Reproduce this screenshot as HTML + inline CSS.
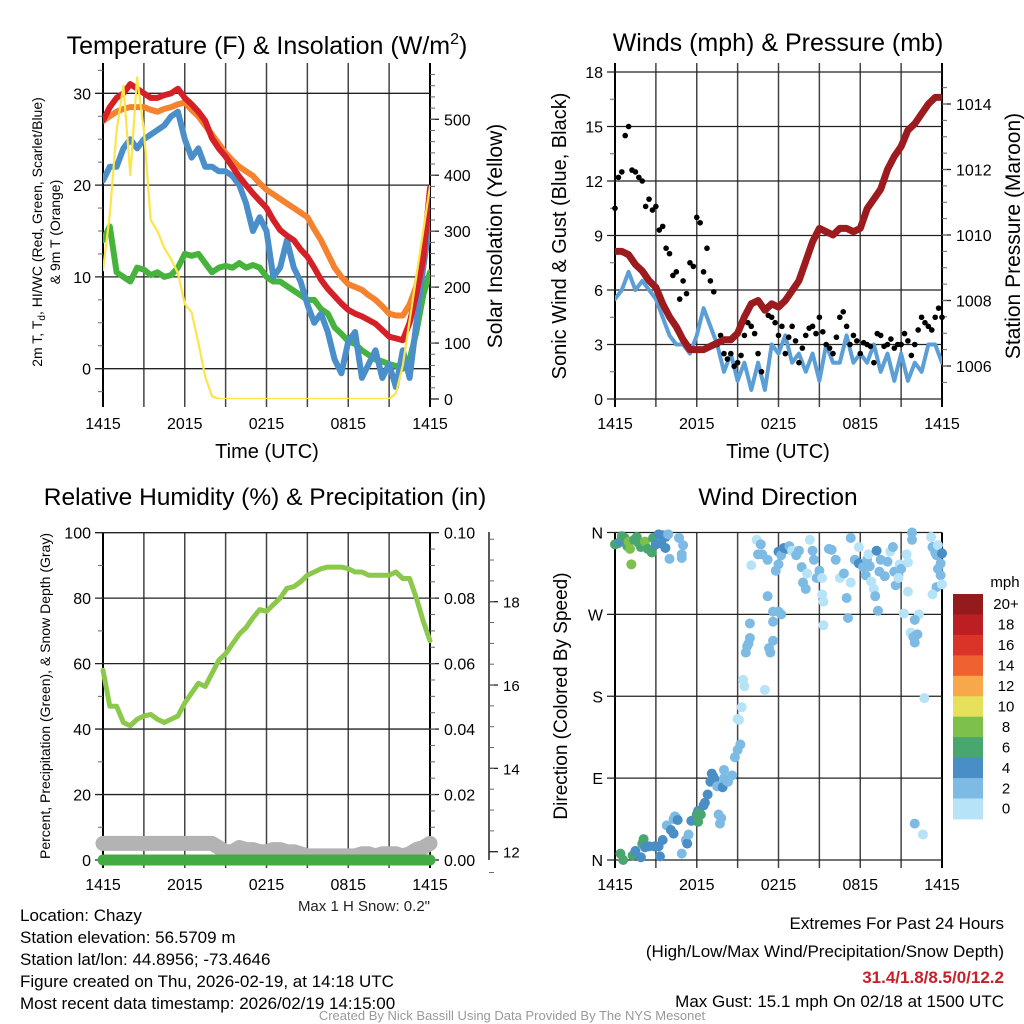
<!DOCTYPE html>
<html><head><meta charset="utf-8">
<style>
html,body{margin:0;padding:0;background:#fff;}
svg{display:block;font-family:"Liberation Sans",sans-serif;}
</style></head>
<body>
<svg id="fig" width="1024" height="1024" viewBox="0 0 1024 1024" xmlns="http://www.w3.org/2000/svg">
<g id="static">
<text x="267" y="54" font-size="25" text-anchor="middle">Temperature (F) &amp; Insolation (W/m<tspan font-size="16" dy="-10">2</tspan><tspan dy="10">)</tspan></text>
<text x="778" y="51" font-size="25" text-anchor="middle">Winds (mph) &amp; Pressure (mb)</text>
<text x="265" y="505" font-size="24.5" text-anchor="middle">Relative Humidity (%) &amp; Precipitation (in)</text>
<text x="778" y="505" font-size="24.5" text-anchor="middle">Wind Direction</text>

<text x="267" y="458" font-size="20" text-anchor="middle">Time (UTC)</text>
<text x="778" y="458" font-size="20" text-anchor="middle">Time (UTC)</text>

<text transform="translate(42,232) rotate(-90)" font-size="14" text-anchor="middle">2m T, T<tspan font-size="10" dy="3">d</tspan><tspan dy="-3">, HI/WC (Red, Green, Scarlet/Blue)</tspan></text>
<text transform="translate(60,232) rotate(-90)" font-size="14" text-anchor="middle">&amp; 9m T (Orange)</text>
<text transform="translate(502,236) rotate(-90)" font-size="21" text-anchor="middle">Solar Insolation (Yellow)</text>
<text transform="translate(566,236) rotate(-90)" font-size="20" text-anchor="middle">Sonic Wind &amp; Gust (Blue, Black)</text>
<text transform="translate(1020,236) rotate(-90)" font-size="21" text-anchor="middle">Station Pressure (Maroon)</text>
<text transform="translate(50,696) rotate(-90)" font-size="14" text-anchor="middle">Percent, Precipitation (Green), &amp; Snow Depth (Gray)</text>
<text transform="translate(567,696) rotate(-90)" font-size="19" text-anchor="middle">Direction (Colored By Speed)</text>

<text x="430" y="911" font-size="15" text-anchor="end" fill="#222">Max 1 H Snow: 0.2"</text>
<g font-size="17" fill="#000">
<text x="20" y="921">Location: Chazy</text>
<text x="20" y="943">Station elevation: 56.5709 m</text>
<text x="20" y="965">Station lat/lon: 44.8956; -73.4646</text>
<text x="20" y="987">Figure created on Thu, 2026-02-19, at 14:18 UTC</text>
<text x="20" y="1009">Most recent data timestamp: 2026/02/19 14:15:00</text>
<text x="1004" y="929" text-anchor="end">Extremes For Past 24 Hours</text>
<text x="1004" y="957" text-anchor="end">(High/Low/Max Wind/Precipitation/Snow Depth)</text>
<text x="1004" y="983" text-anchor="end" fill="#c8202a" font-weight="bold">31.4/1.8/8.5/0/12.2</text>
<text x="1004" y="1007" text-anchor="end">Max Gust: 15.1 mph On 02/18 at 1500 UTC</text>
</g>
<text x="512" y="1020" font-size="13" fill="#999" text-anchor="middle">Created By Nick Bassill Using Data Provided By The NYS Mesonet</text>
</g>
</svg>
<script>
// ---------- data (half-hourly, h = 0..24 from 1415 UTC) ----------
var xTickLabels = ["1415","2015","0215","0815","1415"];
var tempRed = [27,28.5,29.5,30,31,30.5,30,29.5,29.5,29.8,30,30.5,29.5,28.8,28,27,25.1,24,23.1,22,20.9,20,19.1,18.3,17.5,16.2,15.1,14.5,14,13,12.2,11,9.7,8.7,7.9,7.1,6.4,6,5.7,5.3,4.9,4.2,3.5,3.3,3.1,5,8.2,11.9,19.7];
var temp9m = [27,27.5,28,28.3,28.5,28.5,28.5,28.2,28,28.3,28.5,28.8,29,28.2,27.5,26.5,25.5,24.5,23.5,22.7,22,21.5,21,20.2,19.5,19,18.5,18,17.5,17,16.5,15.2,14,12.5,11,10,9.2,8.9,8.6,8,7.5,6.8,6,5.8,5.8,7,9,13,19];
var windChill = [20.5,22,22,24,25,24,25,25.5,26,26.5,27.5,28,25,23,24,22,22,21.5,21.5,21,20,18,15,16.5,15,10,11,14,11,9.5,7,5,6,4,1,-0.5,3,4,-1,0.5,2,-1,0.5,-2,2,-1,5,11,16];
var dewPoint = [14,15.5,10.5,10,9.5,11,10.8,10.2,10.5,10,10.2,11,12.5,12.3,12.5,11.5,10.5,11,11.2,11,11.5,11,11.3,11,10,9.5,9.5,9,8.5,8,7.5,7.5,6.5,6,4.5,3.8,3,2.7,2,1.5,1,0.8,0.5,0.3,0,1,4,8,10.5];
var solar = [230,330,480,560,400,575,480,320,300,270,250,225,170,155,100,40,5,0,0,0,0,0,0,0,0,0,0,0,0,0,0,0,0,0,0,0,0,0,0,0,0,0,0,10,60,140,220,300,380];
var windSpd = [5.5,6,7,6,6.5,6,5.5,4.5,3.5,3,3,2.5,3.5,5,4,3,1.5,2.5,1,2,0.5,2,0.5,3,2.5,3.5,2,2.5,1.5,2.5,1,3,2,2,3.5,2,2.5,2,3,1.5,2.5,1,2.5,1,2,1.5,3,3,2];
var gustA = [10.5,12.5,15,12.5,12,11,10.6,9.5,8,7,6.5,7.5,10,7,6.5,3,2.5,2.5,2,3.5,4,2.5,5,4.5,3.5,2.5,4,2,3.5,4,4.5,3,2.5,4.5,4,3.5,2.5,3,2,3.5,3,2.8,3,3.2,3,4.5,4,4.5,4.5];
var gustB = [12.2,14.5,12.6,12.2,10.6,10.4,9.3,8.3,6.8,5.5,5.8,7.3,9.7,8.3,5.9,3.5,2.2,1.8,2.4,4.2,3.6,1.5,4.6,4.2,4.0,3.4,3.2,2.8,3.9,3.6,3.7,2.8,3.4,4.8,3.0,3.2,3.1,2.9,3.6,2.9,3.3,3.0,3.6,2.4,3.8,4.2,3.8,5.0,3.8];
var pressure = [1009.5,1009.5,1009.4,1009.1,1008.9,1008.6,1008.4,1007.9,1007.5,1007.2,1006.8,1006.5,1006.5,1006.5,1006.6,1006.7,1006.8,1006.8,1007.0,1007.5,1007.9,1008.0,1007.7,1007.9,1007.8,1008.0,1008.3,1008.6,1009.2,1009.8,1010.2,1010.1,1010.0,1010.2,1010.2,1010.1,1010.2,1010.8,1011.1,1011.4,1012.0,1012.4,1012.7,1013.2,1013.4,1013.7,1014.0,1014.2,1014.2];
var rh = [58,47,47,42,41,43,44,44.5,43,42,43,44,48,51,54,53,57,61,63,66,69,71,74,76.5,76,78,80,83,83.5,85,87,88,89,89.5,89.5,89.5,89,88,88,87,87,87,87,88,86,86,80,73,67];
var snowDepth = [12.2,12.2,12.2,12.2,12.2,12.2,12.2,12.2,12.2,12.2,12.2,12.2,12.2,12.2,12.2,12.2,12.2,12.1,12.0,12.0,12.1,12.05,12.05,12.0,12.0,12.05,12.05,12.0,12.0,11.95,11.9,11.9,11.9,11.9,11.9,11.9,11.9,11.9,11.95,11.95,11.9,11.95,11.95,11.95,11.9,11.95,12.05,12.1,12.2];
var precip = [0,0,0,0,0,0,0,0,0,0,0,0,0,0,0,0,0,0,0,0,0,0,0,0,0,0,0,0,0,0,0,0,0,0,0,0,0,0,0,0,0,0,0,0,0,0,0,0,0];
var dirTimes = [0,0.2,0.4,0.5,0.7,0.9,1,1.1,1.2,1.4,1.6,1.7,1.9,2.2,2.4,2.7,2.8,3,3.2,3.5,3.7,3.4,3.7,3.9,4.7,5,4.0,4.9,4.9,
0.4,0.6,1.3,1.5,1.9,2.0,2.1,2.2,2.5,2.9,3.2,3.3,3.5,3.8,4.1,4.3,4.4,4.5,4.6,4.3,4.9,5.2,5.3,5.4,5.6,5.8,6.0,6.1,6.2,6.3,6.1,6.5,6.6,6.8,7.0,7.1,7.2,7.3,7.5,7.8,8.0,7.9,7.8,7.7,7.6,8.2,8.3,8.6,8.0,8.8,9.0,9.0,9.1,
9.3,9.2,9.5,9.4,9.6,9.7,9.8,9.9,9.9,10.4,10.0,10.5,10.8,11.2,10.7,11.3,11.4,11.6,11.0,11.6,11.6,11.2,11.8,12.0,12.0,12.2,12.4,12.6,12.0,12.2,12.8,13.0,13.3,13.5,13.7,13.8,14.0,14.1,14.3,14.5,14.6,14.8,15.0,15.2,15.3,15.2,15.3,15.7,15.9,16.2,16.5,16.8,17.0,17.1,17.3,17.3,17.6,17.9,17.9,18.2,18.4,18.5,18.6,18.7,18.8,19.0,19.1,19.3,19.2,19.4,19.5,19.8,20.0,20.2,20.4,20.5,20.6,20.8,20.9,21.0,20.8,21.2,21.4,21.5,21.8,21.8,21.5,21.7,21.9,22.0,22.1,22.2,22.3,22.0,22.0,22.6,22.7,23.2,23.3,23.5,23.7,23.9,23.6,24.0,23.6,23.9,24.0,23.3,23.7];
var dirDegs = [347,348,350,356,354,345,350,342,325,352,355,349,344,350,342,338,354,347,358,357,355,348,343,358,354,346,331,332,336,
7,0,5,10,3,18,23,14,15,15,15,4,22,38,33,45,48,46,44,29,7,22,18,28,43,44,50,54,52,50,42,60,63,72,86,95,92,89,81,82,90,80,46,40,50,87,86,93,99,113,121,155,154,
168,127,191,198,228,235,238,244,260,352,324,336,336,330,347,233,228,241,187,262,273,290,318,325,339,335,343,342,273,270,345,340,335,340,322,305,298,315,352,340,330,310,318,292,284,310,258,342,341,330,310,315,288,266,354,305,330,344,326,322,313,330,336,323,306,298,290,274,340,317,330,312,328,339,344,317,302,313,325,320,310,271,336,295,360,352,327,250,245,239,247,248,270,264,40,28,178,355,344,338,346,326,335,337,300,313,303,292,320];
var dirSpeeds = [6,6,5,6,7,7,8,8,8,6,6,6,6,8,7,6,6,5,4,4,4,4,4,3,3,3,3,3,3,
6,6,6,4,4,6,6,4,4,4,4,4,4,2,4,2,2,2,4,4,2,2,4,2,4,4,6,4,6,6,6,4,4,4,4,4,4,4,2,2,2,4,2,2,2,2,2,2,2,2,2,0,0,
0,2,0,0,2,2,2,2,2,0,0,2,2,2,2,2,2,2,0,2,2,2,2,2,4,2,4,4,2,2,2,0,2,2,2,2,2,0,0,2,2,2,2,0,0,0,0,2,2,2,0,2,2,2,2,0,2,0,4,2,2,2,0,2,0,0,2,2,4,2,2,2,2,0,2,2,2,2,0,2,0,0,0,0,2,2,0,0,2,2,2,2,0,2,2,0,0,0,2,2,0,2,2,4,2,2,0,0,2];
var speedBins = ["0","2","4","6","8","10","12","14","16","18","20+"];
var speedColors = ["#b6e3f8","#7ebbe4","#4a8ec6","#4aa66f","#7dc04c","#e6e05a","#f6a84a","#ef6230","#da3329","#bd1e24","#941a1c"];

// ---------- helpers ----------
var NS = "http://www.w3.org/2000/svg";
var fig = document.getElementById('fig');
function mk(tag, attrs, parent) {
  var e = document.createElementNS(NS, tag);
  for (var k in attrs) e.setAttribute(k, attrs[k]);
  (parent || fig).appendChild(e);
  return e;
}
function hours(n){ var a=[]; for(var i=0;i<n;i++) a.push(i*0.5); return a; }
var H = hours(49);

function Panel(x0, x1, y0, y1) {
  this.x0=x0; this.x1=x1; this.y0=y0; this.y1=y1;
  this.xs = function(h){ return x0 + (x1-x0)*h/24; };
}
function lin(v0, p0, v1, p1){ return function(v){ return p0 + (v-v0)*(p1-p0)/(v1-v0); }; }

function frame(p, name, topTicks) {
  var g = mk('g', {});
  
  
  for (var k=0;k<=8;k++) {
    var x = p.x0 + (p.x1-p.x0)*k/8;
    var ln = mk('line', {x1:x, x2:x, y1:p.y0-(topTicks?9:0), y2:p.y1+8, stroke:(k==0||k==8)?'#000':'#444', 'stroke-width':(k==0||k==8)?2:1.5}, g);
    
    
  }
  for (var j=0;j<xTickLabels.length;j++) {
    var t = mk('text', {x:p.xs(j*6), y:p.y1+30, 'font-size':16, 'text-anchor':'middle'}, g);
    t.textContent = xTickLabels[j];
    
    
  }
  return g;
}
function leftAxis(p, ys, vals, labels, name, minorVals) {
  for (var i=0;i<vals.length;i++){
    var y = ys(vals[i]);
    var ln = mk('line', {x1:p.x0-8, x2:p.x1, y1:y, y2:y, stroke:'#222', 'stroke-width':1.3});
    
    
    var t = mk('text', {x:p.x0-12, y:y+6, 'font-size':16, 'text-anchor':'end'});
    t.textContent = labels[i];
    
    
  }
  (minorVals||[]).forEach(function(v){
    var y = ys(v);
    var m = mk('line', {x1:p.x0-5, x2:p.x0, y1:y, y2:y, stroke:'#666', 'stroke-width':1});
    
    
  });
}
function rightAxis(x, ys, vals, labels, name, minorVals, fs) {
  for (var i=0;i<vals.length;i++){
    var y = ys(vals[i]);
    var ln = mk('line', {x1:x, x2:x+9, y1:y, y2:y, stroke:'#222', 'stroke-width':1.3});
    
    
    var t = mk('text', {x:x+14, y:y+6, 'font-size':fs||16});
    t.textContent = labels[i];
    
    
  }
  (minorVals||[]).forEach(function(v){
    var y = ys(v);
    var m = mk('line', {x1:x, x2:x+5, y1:y, y2:y, stroke:'#666', 'stroke-width':1});
    
    
  });
}
function series(p, ys, arr, color, w, name, clip) {
  var d = '';
  for (var i=0;i<arr.length;i++) d += (i?'L':'M') + p.xs(H[i]).toFixed(1) + ',' + ys(arr[i]).toFixed(1);
  var path = mk('path', {d:d, fill:'none', stroke:color, 'stroke-width':w, 'stroke-linejoin':'round', 'stroke-linecap':'round'});
  if (clip) path.setAttribute('clip-path', clip);
  
  
  return path;
}
function range(a,b,s){ var r=[]; for(var v=a; v<=b+1e-9; v+=s) r.push(+v.toFixed(4)); return r; }

var defs = mk('defs', {});
function clip(id, p){ var c = mk('clipPath', {id:id}, defs); mk('rect', {x:p.x0, y:p.y0, width:p.x1-p.x0, height:p.y1-p.y0}, c); }

// ---------- Panel 1: temperature ----------
var P1 = new Panel(103, 430, 72, 399);
clip('c1', P1);
var yT = lin(0, 368.7, 30, 93.3);
var yS = lin(0, 399, 500, 119.3);
frame(P1, 'temp-panel', true);
leftAxis(P1, yT, [0,10,20,30], ['0','10','20','30'], 'temp', [-2.5,2.5,5,7.5,12.5,15,17.5,22.5,25,27.5,32.5]);
rightAxis(P1.x1, yS, [0,100,200,300,400,500], ['0','100','200','300','400','500'], 'solar', range(20,580,20));
series(P1, yT, dewPoint, '#46b43c', 6, 'dewpoint-line', 'url(#c1)');
series(P1, yT, windChill, '#4a8fca', 6, 'windchill-line', 'url(#c1)');
series(P1, yT, temp9m, '#f5822f', 6, 'temp-9m-line', 'url(#c1)');
series(P1, yT, tempRed, '#d52027', 6, 'temp-2m-line', 'url(#c1)');
series(P1, yS, solar, '#fce54a', 2.2, 'solar-line', 'url(#c1)');

// ---------- Panel 2: winds ----------
var P2 = new Panel(615, 942, 72, 399);
clip('c2', P2);
var yW = lin(0, 399, 18, 72);
var yP = lin(1006, 366, 1014, 104);
frame(P2, 'wind-panel', true);
leftAxis(P2, yW, [0,3,6,9,12,15,18], ['0','3','6','9','12','15','18'], 'wind', [1.5,4.5,7.5,10.5,13.5,16.5]);
rightAxis(P2.x1, yP, [1006,1008,1010,1012,1014], ['1006','1008','1010','1012','1014'], 'pressure', range(1005.5,1014.5,0.5));
series(P2, yW, windSpd, '#5b9fd6', 4, 'wind-speed-line', 'url(#c2)');
var gg = mk('g', {});


for (var i=0;i<gustA.length;i++){
  var c = mk('circle', {cx:P2.xs(H[i]), cy:yW(gustA[i]), r:2.8, fill:'#000'}, gg);
  
  
  if (i < gustB.length-1) {
    var c2 = mk('circle', {cx:P2.xs(H[i]+0.25), cy:yW(gustB[i]), r:2.8, fill:'#000'}, gg);
    
    
  }
}
series(P2, yP, pressure, '#9b1b1e', 7, 'pressure-line', 'url(#c2)');

// ---------- Panel 3: RH ----------
var P3 = new Panel(103, 430, 533, 860);
var yR = lin(0, 860, 100, 532.7);
var yPr = lin(0, 860, 0.1, 532.7);
var ySn = lin(12, 851.7, 18, 601.7);
frame(P3, 'rh-panel', false);
leftAxis(P3, yR, [0,20,40,60,80,100], ['0','20','40','60','80','100'], 'rh', [10,30,50,70,90]);
rightAxis(P3.x1, yPr, [0,0.02,0.04,0.06,0.08,0.1], ['0.00','0.02','0.04','0.06','0.08','0.10'], 'precip', range(0.005,0.095,0.005));
var sa = mk('line', {x1:489, x2:489, y1:532, y2:860, stroke:'#222', 'stroke-width':1.5});


rightAxis(489, ySn, [12,14,16,18], ['12','14','16','18'], 'snow', range(12.5,19.5,0.5).concat([11.5]), 15);
series(P3, ySn, snowDepth, '#b3b3b3', 15, 'snow-depth-line');
series(P3, yPr, precip, '#44ab42', 11, 'precip-line');
series(P3, yR, rh, '#8cc84b', 5, 'rh-line');

// ---------- Panel 4: wind direction ----------
var P4 = new Panel(615, 942, 532.5, 860);
var yD = lin(0, 860, 360, 532.5);
frame(P4, 'dir-panel', false);
leftAxis(P4, yD, [0,90,180,270,360], ['N','E','S','W','N'], 'dir', []);
var dg = mk('g', {});


for (var i=0;i<dirTimes.length;i++){
  var bin = Math.min(10, Math.floor(dirSpeeds[i]/2));
  var c = mk('circle', {cx:P4.xs(dirTimes[i]), cy:yD(dirDegs[i]), r:5, fill:speedColors[bin]}, dg);
  
  
}
// colorbar
var cb = mk('g', {});


var cbTop = 594, cbH = 20.45;
var ttl = mk('text', {x:1005, y:587, 'font-size':15, 'text-anchor':'middle'}, cb);
ttl.textContent = 'mph';


for (var k=0;k<speedBins.length;k++){
  var idx = speedBins.length-1-k;
  var r = mk('rect', {x:953, y:cbTop+k*cbH, width:30, height:cbH+0.5, fill:speedColors[idx]}, cb);
  
  
  var t = mk('text', {x:1006, y:cbTop+k*cbH+cbH/2+5, 'font-size':15, 'text-anchor':'middle'}, cb);
  t.textContent = speedBins[idx];
  
  
}
</script>
</body></html>
